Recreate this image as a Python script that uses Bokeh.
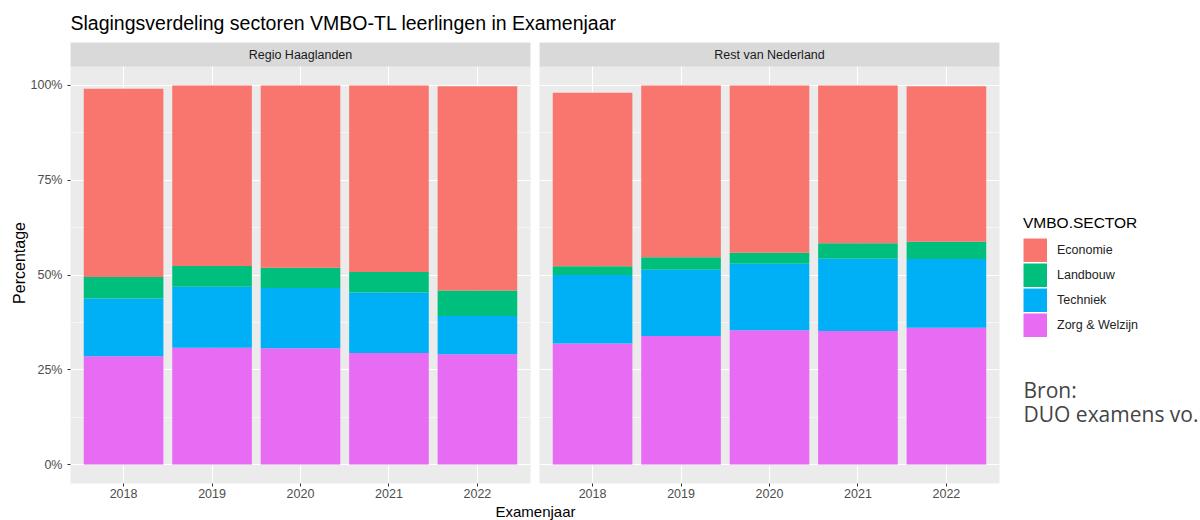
from bokeh.plotting import figure
from bokeh.layouts import column, row
from bokeh.models import ColumnDataSource, Range1d, FixedTicker, Label, Legend, LegendItem
from bokeh.core.properties import value
from bokeh.embed import file_html
from bokeh.resources import INLINE

# ---------------- data ----------------
years = [2018, 2019, 2020, 2021, 2022]
panels = ["Regio Haaglanden", "Rest van Nederland"]

# stacking order bottom -> top
stack_keys = ["zorg", "techniek", "landbouw", "economie"]
legend_order = ["Economie", "Landbouw", "Techniek", "Zorg & Welzijn"]
sector_names = {"zorg": "Zorg & Welzijn", "techniek": "Techniek",
                "landbouw": "Landbouw", "economie": "Economie"}
colors = {"Economie": "#F8766D", "Landbouw": "#00BF7D",
          "Techniek": "#00B0F6", "Zorg & Welzijn": "#E76BF3"}

haaglanden_zorg = [28.6, 30.8, 30.7, 29.4, 29.1]
haaglanden_techniek = [15.2, 16.1, 15.9, 16.0, 10.1]
haaglanden_landbouw = [5.7, 5.5, 5.3, 5.4, 6.7]
haaglanden_economie = [49.6, 47.6, 48.1, 49.2, 53.9]

rest_zorg = [31.9, 33.9, 35.4, 35.2, 36.1]
rest_techniek = [18.1, 17.5, 17.6, 19.1, 18.1]
rest_landbouw = [2.3, 3.3, 2.9, 4.1, 4.6]
rest_economie = [45.8, 45.3, 44.1, 41.6, 41.0]

y_ticks = [0, 25, 50, 75, 100]
y_tick_labels = ["0%", "25%", "50%", "75%", "100%"]
y_minor = [12.5, 37.5, 62.5, 87.5]

title_text = "Slagingsverdeling sectoren VMBO-TL leerlingen in Examenjaar"
x_label = "Examenjaar"
y_label = "Percentage"
legend_title = "VMBO.SECTOR"
source_lines = ["Bron:", "DUO examens vo."]

# ---------------- layout constants ----------------
FONT = "Liberation Sans"
PAGE_W = 1200
TITLE_H = 42
ROW_H = 460
XLAB_H = 520 - TITLE_H - ROW_H
LEFT_W, RIGHT_W = 534, 470
LEG_W = PAGE_W - LEFT_W - RIGHT_W
BORDER_BOTTOM = 19
STRIP_PX = 24
FRAME_H = ROW_H - BORDER_BOTTOM
PANEL_PX = FRAME_H - STRIP_PX
Y_LO, Y_HI = -5, 105
Y_TOP = Y_HI + (Y_HI - Y_LO) * STRIP_PX / PANEL_PX


def blank(w, h):
    f = figure(width=w, height=h, x_range=Range1d(0, 1), y_range=Range1d(0, 1),
               output_backend="svg", toolbar_location=None,
               x_axis_location=None, y_axis_location=None,
               min_border_left=0, min_border_right=0,
               min_border_top=0, min_border_bottom=0)
    f.grid.visible = False
    f.outline_line_color = None
    f.background_fill_color = "white"
    f.border_fill_color = "white"
    return f


def panel(name, data, first):
    p = figure(width=LEFT_W if first else RIGHT_W, height=ROW_H,
               x_range=Range1d(years[0] - 0.6, years[-1] + 0.6),
               y_range=Range1d(Y_LO, Y_TOP),
               output_backend="svg", toolbar_location=None,
               y_axis_location="left" if first else None,
               min_border_top=0, min_border_bottom=BORDER_BOTTOM,
               min_border_left=70 if first else 5,
               min_border_right=4 if first else 5)
    p.background_fill_color = "#EBEBEB"
    p.border_fill_color = "white"
    p.outline_line_color = None

    src = ColumnDataSource(dict(year=years, **data))
    p.vbar_stack(stack_keys, x="year", width=0.9, source=src,
                 fill_color=[colors[sector_names[k]] for k in stack_keys],
                 line_color=None)

    # facet strip
    p.quad(left=[p.x_range.start], right=[p.x_range.end], bottom=[Y_HI], top=[Y_TOP],
           fill_color="#D9D9D9", line_color=None)
    p.text(x=[sum(years) / len(years)], y=[(Y_HI + Y_TOP) / 2], text=[name],
           text_font=value(FONT), text_font_size="12.5px", text_color="#1A1A1A",
           text_align="center", text_baseline="middle")

    # grids
    p.xgrid.ticker = FixedTicker(ticks=years)
    p.xgrid.grid_line_color = "white"
    p.xgrid.grid_line_width = 1.1
    p.ygrid.ticker = FixedTicker(ticks=y_ticks, minor_ticks=y_minor)
    p.ygrid.grid_line_color = "white"
    p.ygrid.grid_line_width = 1.1
    p.ygrid.minor_grid_line_color = "white"
    p.ygrid.minor_grid_line_width = 0.55

    # x axis
    xa = p.xaxis[0]
    xa.ticker = FixedTicker(ticks=years)
    xa.axis_line_color = None
    xa.major_tick_line_color = "#333333"
    xa.major_tick_out = 3
    xa.major_tick_in = 0
    xa.minor_tick_line_color = None
    xa.major_label_text_font = FONT
    xa.major_label_text_font_size = "12.5px"
    xa.major_label_text_color = "#4D4D4D"
    xa.major_label_standoff = 2

    if first:
        ya = p.yaxis[0]
        ya.ticker = FixedTicker(ticks=y_ticks, minor_ticks=y_minor)
        ya.major_label_overrides = {t: l for t, l in zip(y_ticks, y_tick_labels)}
        ya.axis_line_color = None
        ya.major_tick_line_color = "#333333"
        ya.major_tick_out = 3
        ya.major_tick_in = 0
        ya.minor_tick_line_color = None
        ya.major_label_text_font = FONT
        ya.major_label_text_font_size = "12.5px"
        ya.major_label_text_color = "#4D4D4D"
        ya.major_label_standoff = 4
        ya.axis_label = y_label
        ya.axis_label_text_font = FONT
        ya.axis_label_text_font_size = "16px"
        ya.axis_label_text_font_style = "normal"
        ya.axis_label_text_color = "black"
        ya.axis_label_standoff = 0
    return p


left = panel(panels[0], dict(zorg=haaglanden_zorg, techniek=haaglanden_techniek,
                             landbouw=haaglanden_landbouw, economie=haaglanden_economie), True)
right = panel(panels[1], dict(zorg=rest_zorg, techniek=rest_techniek,
                              landbouw=rest_landbouw, economie=rest_economie), False)

# legend + source note figure (its frame is aligned with the panels' frames)
lf = blank(LEG_W, ROW_H)
nan = float("nan")
items = []
for s in legend_order:
    # key proxy: a thick line draws a filled square key, like ggplot's fill keys
    r = lf.line(x=[nan], y=[nan], line_color=colors[s], line_width=24)
    items.append(LegendItem(label=s, renderers=[r]))
leg = Legend(items=items, title=legend_title, location=(19, 146),
             glyph_width=24, glyph_height=24, label_height=20, spacing=1,
             label_standoff=10, padding=0, margin=0,
             border_line_color=None, background_fill_alpha=0,
             label_text_font=FONT, label_text_font_size="12.5px", label_text_color="#222222",
             title_text_font=FONT, title_text_font_size="15.5px",
             title_text_font_style="normal", title_text_color="black", title_standoff=6)
lf.add_layout(leg)
for i, line in enumerate(source_lines):
    lf.add_layout(Label(x=19, y=94 - 24 * i, x_units="screen", y_units="screen", text=line,
                        text_font="Open Sans", text_font_size="21px", text_color="#444444",
                        text_baseline="middle"))

# title
tf = blank(PAGE_W, TITLE_H)
tf.add_layout(Label(x=70, y=20, x_units="screen", y_units="screen", text=title_text,
                    text_font=FONT, text_font_size="19.5px", text_color="black",
                    text_baseline="middle"))

# x axis title
xf = blank(PAGE_W, XLAB_H)
xf.add_layout(Label(x=535, y=9, x_units="screen", y_units="screen", text=x_label,
                    text_font=FONT, text_font_size="15px", text_color="black",
                    text_align="center", text_baseline="middle"))

layout = column(tf, row(left, right, lf), xf)
open("out.html", "w").write(file_html(layout, INLINE))
